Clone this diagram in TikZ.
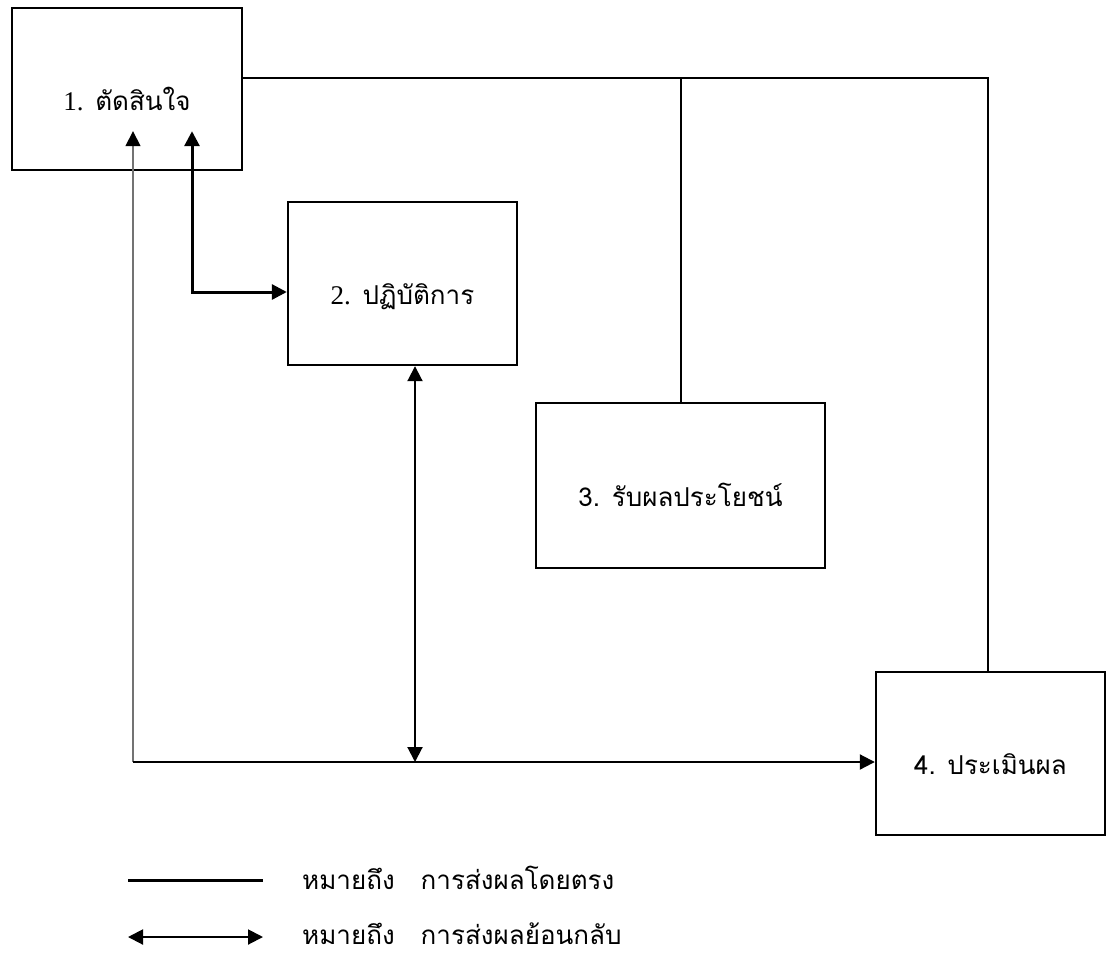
\documentclass[tikz,border=0pt]{standalone}
\usepackage{fontspec}
\newfontfamily\thai[Script=Thai]{Loma}
\newfontfamily\digits{Liberation Serif}
\usetikzlibrary{arrows.meta}
\begin{document}
\begin{tikzpicture}[x=1pt,y=-1pt,
  box/.style={draw, line width=2.4pt, inner sep=0pt, text height=42pt, text depth=0pt,
    font=\thai\fontsize{26}{30}\selectfont},
  conn/.style={line width=2pt},
  thin gray/.style={line width=1.6pt, draw=black!55},
  bold conn/.style={line width=3pt},
  tip/.style={-{Triangle[length=15pt,width=15pt,color=black]}},
  both/.style={{Triangle[length=15pt,width=15pt]}-{Triangle[length=15pt,width=15pt]}},
  legend/.style={anchor=base west, inner sep=0pt, text depth=0pt, font=\thai\fontsize{26}{30}\selectfont}]
\useasboundingbox (0,0) rectangle (1110,953);
\node[box, minimum width=230pt, minimum height=162pt] (b1) at (127,89) {{\digits\fontsize{27}{30}\selectfont 1.} ตัดสินใจ};
\node[box, minimum width=229pt, minimum height=163pt] (b2) at (402.5,283.5) {{\digits\fontsize{27}{30}\selectfont 2.} ปฏิบัติการ};
\node[box, minimum width=289pt, minimum height=165pt] (b3) at (680.5,485.5) {3. รับผลประโยชน์};
\node[box, minimum width=229pt, minimum height=163pt] (b4) at (990.5,753.5) {4. ประเมินผล};
% direct connections
\coordinate (t) at ([yshift=11pt]b1.east);
\draw[conn] (t) -| ([xshift=-3pt]b4.north);
\draw[conn] (b3.north) -- (b3.north |- t);
% feedback
\coordinate (c) at (133,762);
\coordinate (tip1) at ([xshift=6pt,yshift=40pt]b1.south);
\draw[thin gray, tip] (c) -- (tip1);
\draw[conn, tip] (c) -- ([yshift=-8.5pt]b4.west);
\draw[bold conn, both] ([xshift=65pt,yshift=40pt]b1.south) |- ([yshift=-8.5pt]b2.west);
\coordinate (j) at ([xshift=12.5pt]b2.south |- c);
\draw[conn, both] ([xshift=12.5pt]b2.south) -- (j);
% legend
\coordinate (l1a) at (128,880);
\coordinate (l1b) at (263,880);
\coordinate (l2a) at (128,937);
\coordinate (l2b) at (263,937);
\draw[bold conn] (l1a) -- (l1b);
\draw[conn, both] (l2a) -- (l2b);
\node[legend] (t1) at (302,889) {หมายถึง\quad การส่งผลโดยตรง};
\node[legend] (t2) at (302,944) {หมายถึง\quad การส่งผลย้อนกลับ};
\end{tikzpicture}
\end{document}
